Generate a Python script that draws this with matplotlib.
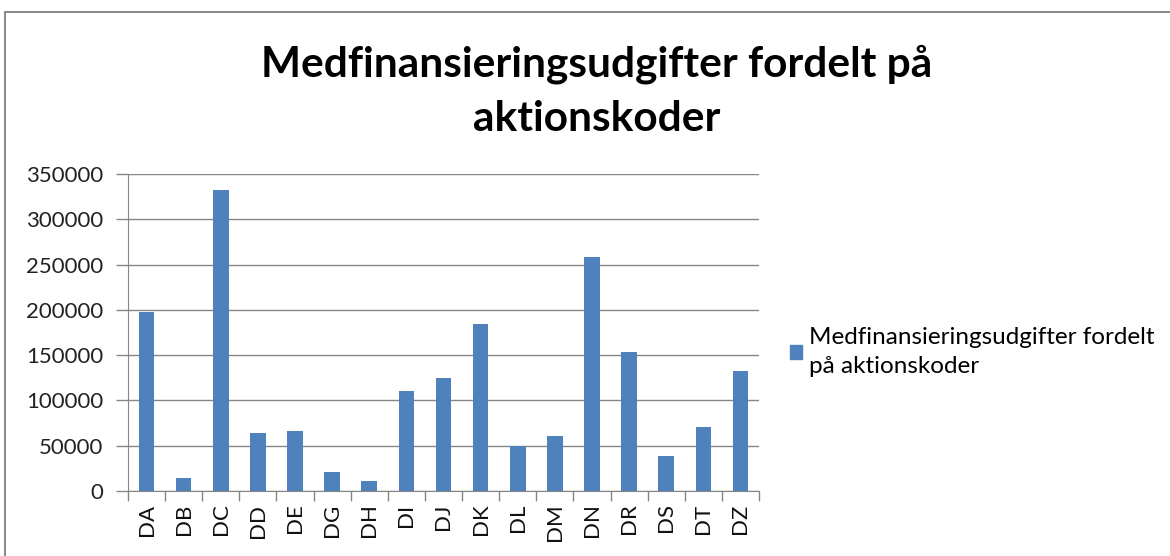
import matplotlib
matplotlib.use("Agg")
import matplotlib.pyplot as plt
from matplotlib.patches import Rectangle, Patch
import numpy as np

codes = ["DA", "DB", "DC", "DD", "DE", "DG", "DH", "DI", "DJ", "DK",
         "DL", "DM", "DN", "DR", "DS", "DT", "DZ"]
values = [197300, 14000, 332700, 63700, 66600, 20600, 11000, 110000, 124400,
          184000, 49700, 61100, 258400, 153100, 38300, 70300, 132500]
y_ticks = [0, 50000, 100000, 150000, 200000, 250000, 300000, 350000]
title = "Medfinansieringsudgifter fordelt på\naktionskoder"
legend_label = "Medfinansieringsudgifter fordelt\npå aktionskoder"

plt.rcParams["font.family"] = ["Lato", "DejaVu Sans"]

fig = plt.figure(figsize=(11.7, 5.56), dpi=100)
fig.patch.set_facecolor("white")

# outer chart border
fig.patches.append(Rectangle((5 / 1170, -0.05), 1.2, 1 - 12 / 556 + 0.05,
                             transform=fig.transFigure, fill=False,
                             edgecolor="#8c8c8c", linewidth=1.5))

ax = fig.add_axes([128 / 1170, 1 - 491 / 556, (759 - 128) / 1170, (491 - 174) / 556])
x = np.arange(len(codes))
ax.bar(x, values, width=0.42, color="#4F81BD", zorder=3)

ax.set_xlim(-0.5, len(codes) - 0.5)
ax.set_ylim(0, 350000)
ax.set_yticks(y_ticks)
ax.set_yticklabels([str(v) for v in y_ticks], fontsize=16, color="#222222")
ax.set_xticks(x)
ax.set_xticklabels(codes, rotation=90, fontsize=16, color="#111111")
ax.tick_params(axis="x", length=0, pad=9)
ax.set_xticks(np.arange(-0.5, len(codes)), minor=True)
ax.tick_params(axis="x", which="minor", length=7, color="#868686", width=1)
ax.tick_params(axis="y", length=9, color="#868686", width=1, pad=9)
ax.grid(axis="y", color="#868686", linewidth=1, zorder=0)
for s in ["top", "right"]:
    ax.spines[s].set_visible(False)
ax.spines["left"].set_color("#868686")
ax.spines["bottom"].set_color("#868686")

fig.text(597 / 1170, 1 - 91 / 556, title,
         ha="center", va="center", fontsize=30.5, fontweight="bold",
         linespacing=1.5, color="#000000")

leg = ax.legend(handles=[Patch(color="#4F81BD")], labels=[legend_label],
                loc="center left", bbox_to_anchor=(790 / 1170, 1 - 352 / 556),
                bbox_transform=fig.transFigure, frameon=False, fontsize=17.5,
                handlelength=0.5, handleheight=0.5, handletextpad=0.3,
                borderpad=0, borderaxespad=0)
for t in leg.get_texts():
    t.set_linespacing(1.45)

fig.savefig("out.png", dpi=100)
